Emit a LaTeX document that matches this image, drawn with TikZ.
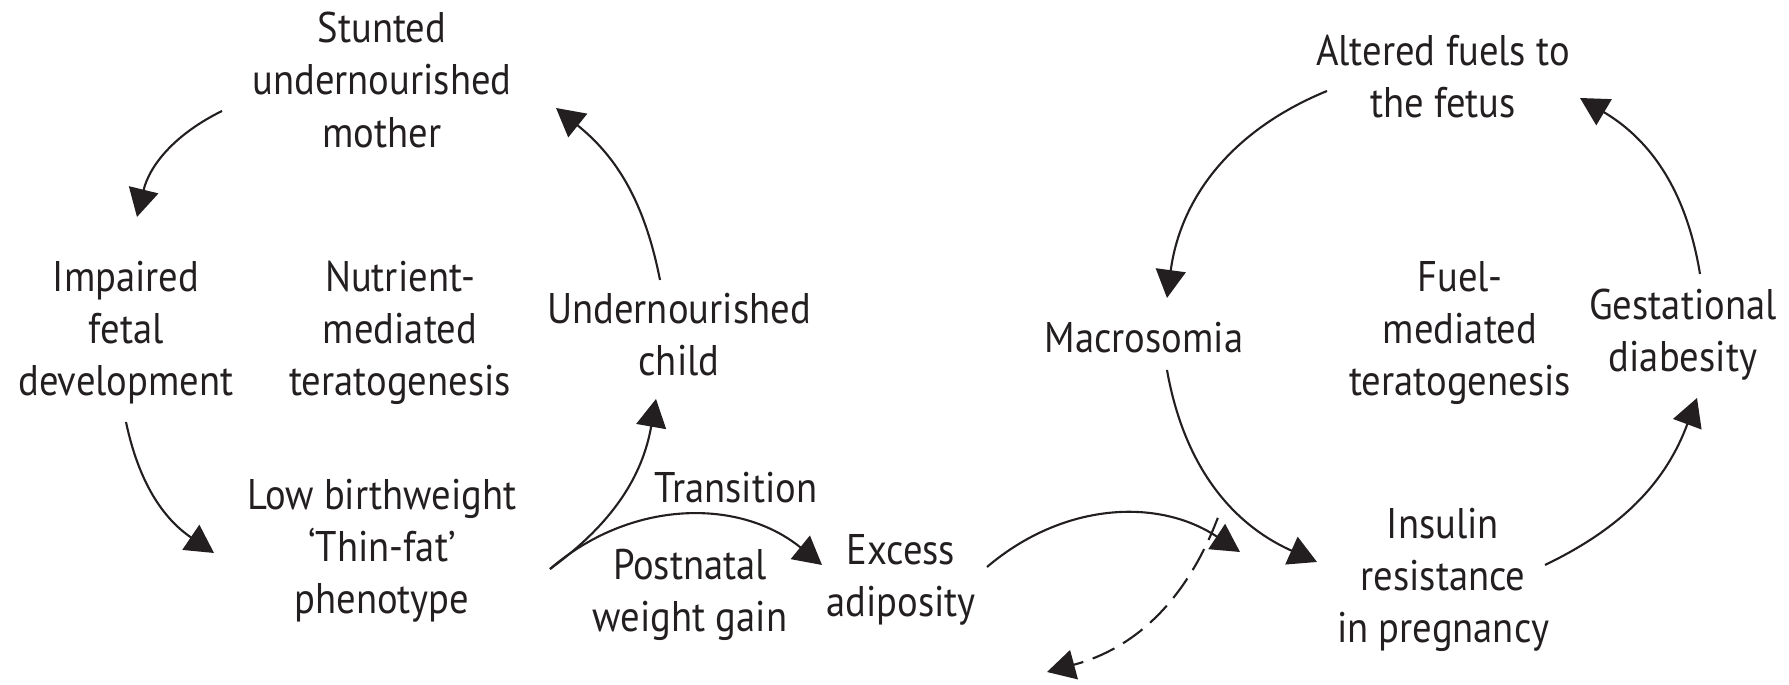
\documentclass[tikz,border=0pt]{standalone}
\usepackage{fontspec}
\setmainfont[FakeStretch=0.9]{PT Sans}
\usetikzlibrary{arrows.meta, calc}
\definecolor{inkgray}{HTML}{231F20}

\begin{document}
\begin{tikzpicture}[
		>={Triangle[length=2.8mm, width=3mm]},
		flow/.style={->, draw=inkgray, line width=0.6pt},
		blocked/.style={flow, dash pattern=on 2.4mm off 1mm},
		stage/.style={align=center, text=inkgray, inner sep=0pt,
			font=\fontsize{12.2}{14.8}\selectfont}
		]
		
		\useasboundingbox (0,0) rectangle (17.89,6.85);
		
		% ==========================================
		% LEFT CYCLE: Nutrient-mediated teratogenesis
		% ==========================================
		
		\node[stage] (mother) at (3.82,6.05) {Stunted\\undernourished\\mother};
		\node[stage] (impaired) at (1.26,3.52) {Impaired\\fetal\\development};
		\node[stage] (nutrient) at (4.00,3.52) {Nutrient-\\mediated\\teratogenesis};
		\node[stage] (child) at (6.79,3.50) {Undernourished\\child};
		\node[stage] (lowbw) at (3.82,1.34) {Low birthweight\\‘Thin-fat’\\phenotype};
		
		% Cycle arrows
		\draw[flow] ($(mother)+(-1.60,-0.31)$) to[bend right=25] ($(impaired)+(0.11,1.16)$);
		\draw[flow] ($(impaired)+(0,-0.89)$) to[bend right=22] ($(lowbw)+(-1.68,-0.02)$);
		\draw[flow] ($(lowbw)+(1.68,-0.18)$) to[bend right=22] ($(child)+(-0.23,-0.64)$);
		\draw[flow] ($(child)+(-0.19,0.55)$) to[bend right=20] ($(mother)+(1.74,-0.28)$);
		
		% ==========================================
		% TRANSITION
		% ==========================================
		
		\node[stage] (transition) at (7.36,1.97) {Transition};
		\node[stage] (postnatal) at (6.90,0.90) {Postnatal\\weight gain};
		\node[stage] (excess) at (9.01,1.05) {Excess\\adiposity};
		
		\draw[flow] ($(lowbw)+(1.68,-0.18)$) to[bend left=40] ($(excess)+(-0.79,0.15)$);
		
		% ==========================================
		% RIGHT CYCLE: Fuel-mediated teratogenesis
		% ==========================================
		
		\node[stage] (altered) at (14.43,6.08) {Altered fuels to\\the fetus};
		\node[stage] (macro) at (11.44,3.47) {Macrosomia};
		\node[stage] (fuel) at (14.60,3.52) {Fuel-\\mediated\\teratogenesis};
		\node[stage] (gestational) at (16.83,3.50) {Gestational\\diabesity};
		\node[stage] (insulin) at (14.43,1.05) {Insulin\\resistance\\in pregnancy};
		
		% Cycle arrows
		\draw[flow] ($(altered)+(-1.16,-0.14)$) to[bend right=30] ($(macro)+(0.23,0.40)$);
		\draw[flow] ($(macro)+(0.23,-0.32)$) to[bend right=28] ($(insulin)+(-1.26,0.18)$);
		\draw[flow] ($(insulin)+(1.02,0.15)$) to[bend right=22] ($(gestational)+(0.14,-0.63)$);
		\draw[flow] ($(gestational)+(0.17,0.61)$) to[bend right=25] ($(altered)+(1.37,-0.21)$);
		
		% Excess adiposity on to insulin resistance
		\draw[flow] ($(excess)+(0.86,0.13)$) to[bend left=37]
			coordinate[pos=0.88] (cut) ($(insulin)+(-2.03,0.28)$);
		
		% Blocked path back (dashed)
		\coordinate (drop) at (10.47,0.13);
		\draw[blocked] ($(cut)+(0.08,0.17)$) to[bend left=27] (drop);
		
	\end{tikzpicture}
\end{document}
